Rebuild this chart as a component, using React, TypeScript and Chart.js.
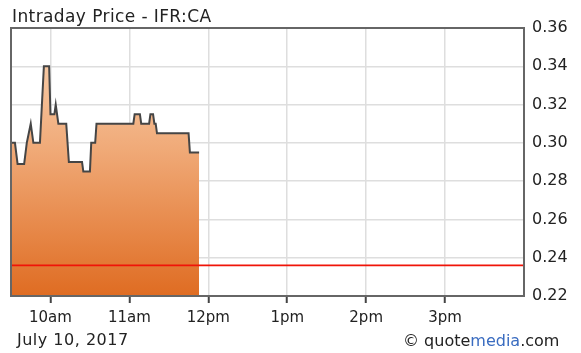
import React, { useEffect, useRef } from "react";
import { Chart, registerables } from "chart.js";
Chart.register(...registerables);

const chartTitle = "Intraday Price - IFR:CA";
const dateLabel = "July 10, 2017";
const times = ["9:30","9:33","9:35","9:40","9:42","9:45","9:47","9:52","9:55","9:59","10:00","10:03","10:04","10:06","10:12","10:14","10:24","10:25","10:30","10:31","10:34","10:35","11:03","11:04","11:08","11:09","11:15","11:16","11:18","11:19","11:20","11:21","11:45","11:46","11:53"];
const prices = [0.30,0.30,0.289,0.289,0.30,0.31,0.30,0.30,0.34,0.34,0.315,0.315,0.32,0.31,0.31,0.29,0.29,0.285,0.285,0.30,0.30,0.31,0.31,0.315,0.315,0.31,0.31,0.315,0.315,0.31,0.31,0.305,0.305,0.295,0.295];
const previousClose = 0.236;
const sessionStart = "9:30";
const sessionEnd = "16:00";
const hourTicks = ["10:00","11:00","12:00","13:00","14:00","15:00"];
const hourLabels = ["10am","11am","12pm","1pm","2pm","3pm"];
const yMin = 0.22;
const yMax = 0.36;
const yStep = 0.02;

const toMin = (s: string) => {
  const [h, m] = s.split(":").map(Number);
  return h * 60 + m;
};

const FONT = "'DejaVu Sans', Verdana, sans-serif";

export default function App() {
  const ref = useRef<HTMLCanvasElement>(null);
  useEffect(() => {
    const canvas = ref.current!;
    const xMin = toMin(sessionStart);
    const xMax = toMin(sessionEnd);
    const tickVals = hourTicks.map(toMin);
    const pricePts = times.map((t, i) => ({ x: toMin(t), y: prices[i] }));
    const closePts = [{ x: xMin, y: previousClose }, { x: xMax, y: previousClose }];

    const textPlugin = {
      id: "texts",
      afterDraw(chart: any) {
        const c = chart.ctx;
        const a = chart.chartArea;
        c.save();
        c.strokeStyle = "#666";
        c.lineWidth = 2;
        c.strokeRect(a.left, a.top, a.right - a.left, a.bottom - a.top);
        c.fillStyle = "#222";
        c.textBaseline = "alphabetic";
        c.textAlign = "left";
        c.font = `17px ${FONT}`;
        (c as any).letterSpacing = "0.4px";
        c.fillText(chartTitle, 12, 22);
        c.font = `16px ${FONT}`;
        (c as any).letterSpacing = "0.5px";
        c.fillText(dateLabel, 17, 345);
        (c as any).letterSpacing = "0px";
        let x = 403;
        const parts: [string, string][] = [["© quote", "#222"], ["media", "#3a6cc0"], [".com", "#222"]];
        for (const [t, col] of parts) {
          c.fillStyle = col;
          c.fillText(t, x, 346);
          x += c.measureText(t).width;
        }
        c.restore();
      },
    };

    const chart = new Chart(canvas, {
      type: "line",
      data: {
        datasets: [
          {
            data: closePts,
            borderColor: "#f01408",
            borderWidth: 1.8,
            pointRadius: 0,
            fill: false,
            order: 0,
          },
          {
            data: pricePts,
            borderColor: "#454545",
            borderWidth: 2,
            pointRadius: 0,
            tension: 0,
            fill: "start",
            order: 1,
            backgroundColor: (ctx: any) => {
              const area = ctx.chart.chartArea;
              if (!area) return "#eea070";
              const g = ctx.chart.ctx.createLinearGradient(0, area.top, 0, area.bottom);
              g.addColorStop(0, "#fad6b6");
              g.addColorStop(0.45, "#f0aa78");
              g.addColorStop(1, "#df6c22");
              return g;
            },
          },
        ],
      },
      options: {
        responsive: false,
        animation: false,
        layout: { padding: { left: 11, top: 28, right: 0, bottom: 0 } },
        plugins: { legend: { display: false }, tooltip: { enabled: false }, title: { display: false } },
        scales: {
          x: {
            type: "linear",
            min: xMin,
            max: xMax,
            afterBuildTicks: (s: any) => {
              s.ticks = tickVals.map((v) => ({ value: v }));
            },
            afterFit: (s: any) => {
              s.height = 57;
            },
            ticks: {
              autoSkip: false,
              maxRotation: 0,
              padding: 6,
              color: "#222",
              font: { family: FONT, size: 15 },
              callback: (v: any) => {
                const i = tickVals.indexOf(Number(v));
                return i >= 0 ? hourLabels[i] : "";
              },
            },
            grid: {
              color: "#dedede",
              lineWidth: 1.5,
              drawTicks: true,
              tickLength: 7,
              tickColor: "#444",
              tickWidth: 2,
            },
            border: { display: false },
          },
          y: {
            position: "right",
            min: yMin,
            max: yMax,
            afterFit: (s: any) => {
              s.width = 57;
            },
            ticks: {
              stepSize: yStep,
              padding: 8,
              color: "#222",
              font: { family: FONT, size: 16 },
              callback: (v: any) => Number(v).toFixed(2),
            },
            grid: { color: "#dedede", lineWidth: 1.5, drawTicks: false },
            border: { display: false },
          },
        },
      },
      plugins: [textPlugin],
    } as any);
    return () => chart.destroy();
  }, []);
  return (
    <div style={{ position: "fixed", left: 0, top: 0, width: 581, height: 353, background: "#fff" }}>
      <canvas ref={ref} width={581} height={353} style={{ display: "block" }} />
    </div>
  );
}
